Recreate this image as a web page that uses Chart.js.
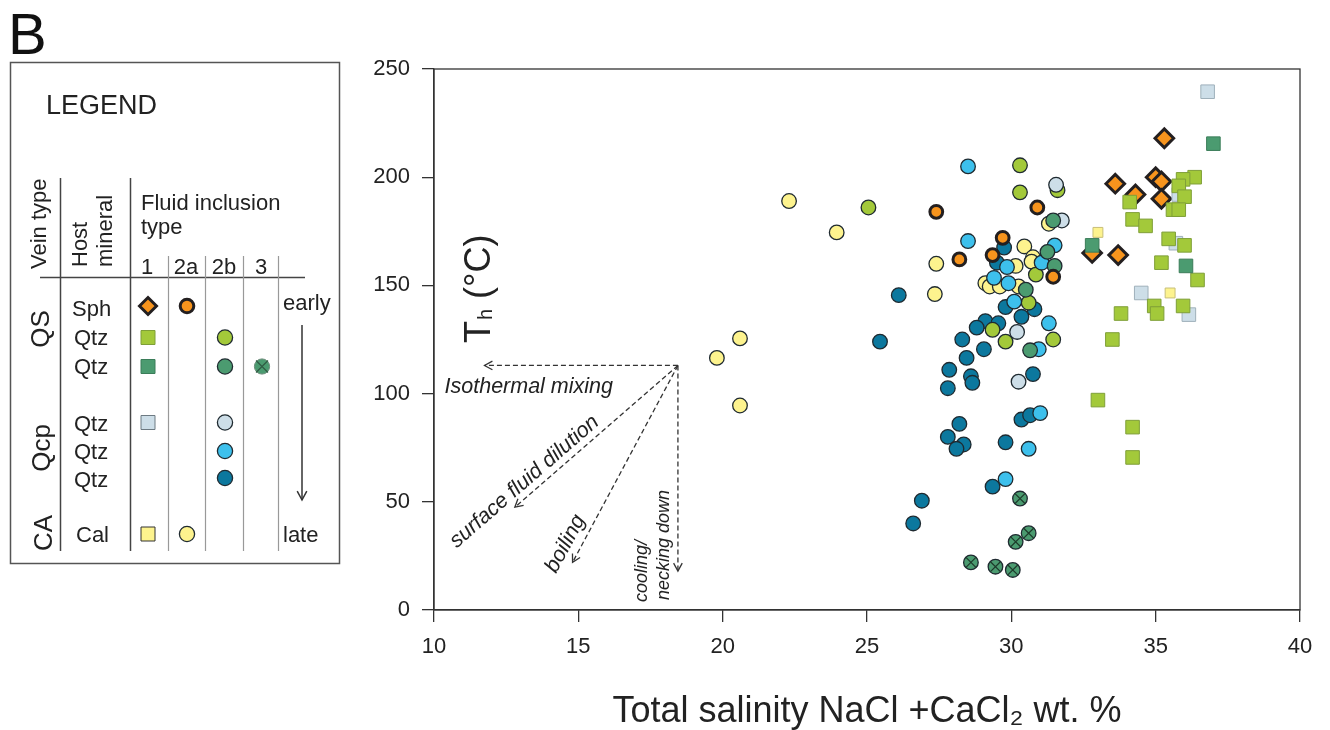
<!DOCTYPE html>
<html>
<head>
<meta charset="utf-8">
<script src="https://cdn.jsdelivr.net/npm/chart.js@4.4.1/dist/chart.umd.min.js"></script>
<style>
  body { margin: 0; background: #fff; }
  #wrap { position: relative; width: 1330px; height: 730px; }
</style>
</head>
<body>
<div id="wrap"><canvas id="myChart" width="1330" height="730"></canvas></div>
<script>
// salinity (wt.% NaCl+CaCl2) vs homogenisation temperature Th (°C)
const xTicks = [10, 15, 20, 25, 30, 35, 40];
const yTicks = [0, 50, 100, 150, 200, 250];

// QS vein, sphalerite
const sphType1 = [[35.3,218],[33.6,197],[34.3,192],[35.0,200],[35.2,198],[35.2,190],[32.8,165],[33.7,164]];
const sphType2a = [[27.4,184],[28.2,162],[29.7,172],[29.35,164],[30.9,186],[31.45,154]];
// QS vein, quartz (green)
const qsQtzType1 = [[36.35,200],[35.95,199],[35.8,196],[36.0,191],[34.1,188.5],[35.6,185],[35.8,185],[34.2,180.5],
  [34.65,177.5],[35.45,171.5],[36.0,168.5],[35.2,160.5],[36.45,152.5],[34.95,140.5],[35.95,140.5],[35.05,137],
  [33.8,137],[33.5,125],[33.0,97],[34.2,84.5],[34.2,70.5]];
const qsQtzType2b = [[25.05,186],[30.3,205.5],[30.3,193],[31.6,194],[30.85,155],[30.6,142],[29.35,129.5],[29.8,124],[31.45,125]];
// QS vein, quartz (dark green)
const qsQtz2Type1 = [[37.0,215.5],[32.8,168.5],[36.05,159]];
const qsQtz2Type2b = [[31.45,180],[31.25,165.5],[31.5,159],[30.5,148],[30.65,120]];
const qsQtz2Type3 = [[28.6,22],[29.45,20],[30.3,51.5],[30.6,35.5],[30.15,31.5],[30.05,18.5]];
// Qcp vein, quartz
const qcpQtzType1 = [[36.8,239.5],[35.8,192],[35.7,169.5],[34.5,146.5],[36.15,136.5]];
const qcpQtzGrey2b = [[31.55,196.5],[31.75,180],[30.2,128.5],[30.25,105.5]];
const qcpQtzCyan2b = [[28.5,205],[28.5,170.5],[31.5,168.5],[31.05,160.5],[29.85,158.5],[29.4,153.5],[29.9,151],
  [30.1,142.5],[31.3,132.5],[30.95,120.5],[31.0,91],[30.6,74.5],[29.8,60.5]];
const qcpQtzTeal2b = [[26.1,145.5],[25.45,124],[29.75,167.5],[29.5,160.5],[29.8,140],[30.35,135.5],[30.8,139],
  [29.1,133.5],[29.55,132.5],[28.8,130.5],[28.3,125],[29.05,120.5],[28.45,116.5],[27.85,111],[28.6,108],
  [28.65,105],[27.8,102.5],[30.75,109],[28.2,86],[27.8,80],[28.35,76.5],[28.1,74.5],[29.8,77.5],[30.35,88],
  [30.65,90],[29.35,57],[26.9,50.5],[26.6,40]];
// CA vein, calcite
const calType1 = [[33.0,174.5],[35.5,146.5]];
const calType2a = [[22.3,189],[23.95,174.5],[19.8,116.5],[20.6,125.5],[20.6,94.5],[27.4,160],[27.35,146],[29.1,151],
  [29.25,149.5],[29.6,149.5],[30.15,159],[30.25,149.5],[30.45,168],[30.75,163],[30.7,161],[31.3,178.5]];

// process arrows (start, end) and their labels
const arrowStart = [18.45, 113];
const arrowEnds = [[11.75, 113], [12.8, 47.5], [14.8, 22], [18.45, 18]];
const arrowLabels = ['Isothermal mixing', 'surface fluid dilution', 'boiling', ['cooling/', 'necking down']];

const FONT = '"Liberation Sans", Arial, Helvetica, sans-serif';

const pts = arr => arr.map(p => ({ x: p[0], y: p[1] }));

function set(label, arr, style, order) {
  return Object.assign({
    label, data: pts(arr), order,
    pointStyle: 'circle', pointRadius: 7.3, pointBorderWidth: 1.3,
    pointBorderColor: '#1f2a30', showLine: false
  }, style);
}

const C = {
  orange: '#f7941d', yg: '#a3c93a', dkgreen: '#4b9b70', grey: '#cddee8',
  cyan: '#3dc0ec', teal: '#0c789e', yellow: '#fdf38e'
};

const datasets = [
  set('Cal 1', calType1, { pointStyle: 'rect', pointRadius: 7, pointBackgroundColor: C.yellow, pointBorderColor: '#c8bf78', pointBorderWidth: 1 }, 1),
  set('QS Qtz 1 dk', qsQtz2Type1, { pointStyle: 'rect', pointRadius: 9.6, pointBackgroundColor: C.dkgreen, pointBorderColor: '#3b7d59', pointBorderWidth: 1 }, 2),
  set('QS Qtz 1', qsQtzType1, { pointStyle: 'rect', pointRadius: 9.6, pointBackgroundColor: C.yg, pointBorderColor: '#7f9f38', pointBorderWidth: 1 }, 3),
  set('Qcp Qtz 1', qcpQtzType1, { pointStyle: 'rect', pointRadius: 9.6, pointBackgroundColor: C.grey, pointBorderColor: '#9fb0ba', pointBorderWidth: 1 }, 4),
  set('Sph 1', sphType1, { pointStyle: 'rectRot', pointRadius: 9.3, pointBackgroundColor: C.orange, pointBorderColor: '#231f20', pointBorderWidth: 3 }, 5),
  set('Sph 2a', sphType2a, { pointRadius: 6.4, pointBackgroundColor: C.orange, pointBorderColor: '#231f20', pointBorderWidth: 3 }, 6),
  set('QS Qtz 3 x', qsQtz2Type3, { pointStyle: 'crossRot', pointRadius: 7, pointBorderColor: '#1d3a2a', pointBorderWidth: 1.2 }, 7),
  set('QS Qtz 3', qsQtz2Type3, { pointBackgroundColor: C.dkgreen }, 8),
  set('QS Qtz 2b dk', qsQtz2Type2b, { pointBackgroundColor: C.dkgreen }, 9),
  set('Qcp Qtz 2b grey', qcpQtzGrey2b, { pointBackgroundColor: C.grey }, 10),
  set('Qcp Qtz 2b cyan', qcpQtzCyan2b, { pointBackgroundColor: C.cyan }, 11),
  set('QS Qtz 2b', qsQtzType2b, { pointBackgroundColor: C.yg }, 12),
  set('Cal 2a', calType2a, { pointBackgroundColor: C.yellow }, 13),
  set('Qcp Qtz 2b teal', qcpQtzTeal2b, { pointBackgroundColor: C.teal }, 14)
];

function marker(ctx, shape, x, y, fill, stroke, bw, r) {
  ctx.save();
  ctx.fillStyle = fill; ctx.strokeStyle = stroke; ctx.lineWidth = bw;
  ctx.beginPath();
  if (shape === 'circle') ctx.arc(x, y, r, 0, Math.PI * 2);
  else if (shape === 'rect') ctx.rect(x - r, y - r, 2 * r, 2 * r);
  else if (shape === 'diamond') { ctx.moveTo(x - r, y); ctx.lineTo(x, y - r); ctx.lineTo(x + r, y); ctx.lineTo(x, y + r); ctx.closePath(); }
  ctx.fill(); ctx.stroke();
  ctx.restore();
}

function arrowHead(ctx, x0, y0, x1, y1, len) {
  const a = Math.atan2(y1 - y0, x1 - x0);
  ctx.beginPath();
  ctx.moveTo(x1 - len * Math.cos(a - 0.5), y1 - len * Math.sin(a - 0.5));
  ctx.lineTo(x1, y1);
  ctx.lineTo(x1 - len * Math.cos(a + 0.5), y1 - len * Math.sin(a + 0.5));
  ctx.stroke();
}

function vText(ctx, txt, x, y, align) {
  ctx.save();
  ctx.translate(x, y);
  ctx.rotate(-Math.PI / 2);
  ctx.textAlign = align || 'left';
  ctx.fillText(txt, 0, 0);
  ctx.restore();
}

// frame, y title, process arrows
const overlay = {
  id: 'overlay',
  afterDraw(chart) {
    const { ctx, chartArea: a, scales: { x, y } } = chart;
    ctx.save();
    ctx.strokeStyle = '#333'; ctx.lineWidth = 1.3;
    ctx.strokeRect(a.left, a.top, a.right - a.left, a.bottom - a.top);

    // y title inside plot
    ctx.fillStyle = '#222';
    ctx.save();
    ctx.translate(a.left + 56, a.top + 274);
    ctx.rotate(-Math.PI / 2);
    ctx.font = '36px ' + FONT;
    ctx.fillText('T', 0, 0);
    let w = ctx.measureText('T').width;
    ctx.font = '20px ' + FONT;
    ctx.fillText('h', w + 1, 2);
    w += ctx.measureText('h').width + 1;
    ctx.font = '36px ' + FONT;
    ctx.fillText(' (°C)', w, 0);
    ctx.restore();

    // dashed arrows
    const ox = x.getPixelForValue(arrowStart[0]), oy = y.getPixelForValue(arrowStart[1]);
    ctx.strokeStyle = '#333'; ctx.lineWidth = 1.3;
    const ends = arrowEnds.map(e => [x.getPixelForValue(e[0]), y.getPixelForValue(e[1])]);
    ends.forEach(([ex, ey]) => {
      ctx.setLineDash([5, 3]);
      ctx.beginPath(); ctx.moveTo(ox, oy); ctx.lineTo(ex, ey); ctx.stroke();
      ctx.setLineDash([]);
      arrowHead(ctx, ox, oy, ex, ey, 9);
    });

    ctx.font = 'italic 21.5px ' + FONT;
    ctx.fillStyle = '#222';
    // isothermal mixing, below the horizontal arrow
    ctx.textAlign = 'left';
    ctx.fillText(arrowLabels[0], ends[0][0] - 40, oy + 28);
    // sloping labels, on the upper-left side of their arrows
    [[1, 24, -7], [2, 13, -9]].forEach(([i, along, off]) => {
      const [ex, ey] = ends[i];
      const ang = Math.atan2(oy - ey, ox - ex);
      ctx.save();
      ctx.translate(ex, ey);
      ctx.rotate(ang);
      ctx.textAlign = 'center';
      ctx.fillText(arrowLabels[i], along, off);
      ctx.restore();
    });
    // cooling / necking down
    ctx.font = 'italic 18px ' + FONT;
    const [cx, cy] = ends[3];
    vText(ctx, arrowLabels[3][0], cx - 31, cy + 31);
    vText(ctx, arrowLabels[3][1], cx - 9, cy + 29);
    ctx.restore();
  }
};

// legend panel on the left
const legendPanel = {
  id: 'legendPanel',
  afterDraw(chart) {
    const ctx = chart.ctx;
    ctx.save();
    ctx.fillStyle = '#111';
    ctx.font = '58px ' + FONT;
    ctx.fillText('B', 8, 54);

    ctx.strokeStyle = '#555'; ctx.lineWidth = 1.5;
    ctx.strokeRect(10.5, 62.5, 329, 501);

    ctx.fillStyle = '#222';
    ctx.font = '27px ' + FONT;
    ctx.fillText('LEGEND', 46, 114);

    ctx.font = '22px ' + FONT;
    vText(ctx, 'Vein type', 46, 269);
    vText(ctx, 'Host', 87, 267);
    vText(ctx, 'mineral', 112, 267);
    ctx.fillText('Fluid inclusion', 141, 210);
    ctx.fillText('type', 141, 234);
    ctx.textAlign = 'center';
    [['1', 147], ['2a', 186], ['2b', 224], ['3', 261]].forEach(([t, cx]) => ctx.fillText(t, cx, 274));
    ctx.textAlign = 'left';

    // table lines
    ctx.strokeStyle = '#444'; ctx.lineWidth = 1.5;
    ctx.beginPath();
    ctx.moveTo(60.5, 178); ctx.lineTo(60.5, 551);
    ctx.moveTo(130.5, 178); ctx.lineTo(130.5, 551);
    ctx.moveTo(40, 277.5); ctx.lineTo(305, 277.5);
    ctx.stroke();
    ctx.strokeStyle = '#999'; ctx.lineWidth = 1.2;
    ctx.beginPath();
    [168.5, 205.5, 243.5, 278.5].forEach(lx => { ctx.moveTo(lx, 256); ctx.lineTo(lx, 551); });
    ctx.stroke();

    // rows
    const rows = [
      ['Sph', 72, 316, 306], ['Qtz', 74, 345, 337.5], ['Qtz', 74, 374, 366.5],
      ['Qtz', 74, 431, 422.5], ['Qtz', 74, 459, 451], ['Qtz', 74, 487, 478], ['Cal', 76, 542, 534]
    ];
    rows.forEach(r => ctx.fillText(r[0], r[1], r[2]));
    const cy = rows.map(r => r[3]);
    marker(ctx, 'diamond', 148, cy[0], C.orange, '#231f20', 3, 8.5);
    marker(ctx, 'circle', 187, cy[0], C.orange, '#231f20', 3, 6.8);
    marker(ctx, 'rect', 148, cy[1], C.yg, '#7f9f38', 1, 7);
    marker(ctx, 'circle', 225, cy[1], C.yg, '#1f2a30', 1.3, 7.6);
    marker(ctx, 'rect', 148, cy[2], C.dkgreen, '#3b7d59', 1, 7);
    marker(ctx, 'circle', 225, cy[2], C.dkgreen, '#1f2a30', 1.3, 7.6);
    marker(ctx, 'circle', 262, cy[2], C.dkgreen, '#6a8a78', 1, 7.6);
    ctx.strokeStyle = '#2f5a43'; ctx.lineWidth = 1.1;
    ctx.beginPath();
    ctx.moveTo(256, cy[2] - 6); ctx.lineTo(268, cy[2] + 6);
    ctx.moveTo(268, cy[2] - 6); ctx.lineTo(256, cy[2] + 6);
    ctx.stroke();
    marker(ctx, 'rect', 148, cy[3], C.grey, '#6d7a82', 1, 7);
    marker(ctx, 'circle', 225, cy[3], C.grey, '#1f2a30', 1.3, 7.6);
    marker(ctx, 'circle', 225, cy[4], C.cyan, '#1f2a30', 1.3, 7.6);
    marker(ctx, 'circle', 225, cy[5], C.teal, '#1f2a30', 1.3, 7.6);
    marker(ctx, 'rect', 148, cy[6], C.yellow, '#333', 1, 7);
    marker(ctx, 'circle', 187, cy[6], C.yellow, '#1f2a30', 1.3, 7.6);

    // vein labels
    ctx.font = '26px ' + FONT;
    vText(ctx, 'QS', 49, 329, 'center');
    vText(ctx, 'Qcp', 50, 448, 'center');
    vText(ctx, 'CA', 52, 533, 'center');

    // early -> late
    ctx.font = '22px ' + FONT;
    ctx.fillText('early', 283, 310);
    ctx.fillText('late', 283, 542);
    ctx.strokeStyle = '#333'; ctx.lineWidth = 1.5;
    ctx.beginPath(); ctx.moveTo(302, 325); ctx.lineTo(302, 500); ctx.stroke();
    arrowHead(ctx, 302, 325, 302, 500, 10);
    ctx.restore();
  }
};

const axisCommon = {
  border: { display: true, color: '#333', width: 1.3 },
  grid: { display: true, drawOnChartArea: false, drawTicks: true, tickLength: 12, color: '#333', lineWidth: 1.3 }
};

new Chart(document.getElementById('myChart'), {
  type: 'scatter',
  data: { datasets },
  options: {
    responsive: false,
    animation: false,
    layout: { padding: { top: 69, right: 30, left: 0, bottom: 0 } },
    plugins: { legend: { display: false }, tooltip: { enabled: false } },
    scales: {
      x: Object.assign({}, axisCommon, {
        min: xTicks[0], max: xTicks[xTicks.length - 1],
        ticks: { stepSize: xTicks[1] - xTicks[0], color: '#222', padding: 12, font: { size: 22, family: FONT } },
        title: {
          display: true, text: 'Total salinity NaCl +CaCl₂ wt. %', color: '#222',
          font: { size: 36, family: FONT, lineHeight: 1 }, padding: { top: 0, bottom: 0 }
        },
        afterFit: s => { s.height = 120; }
      }),
      y: Object.assign({}, axisCommon, {
        min: yTicks[0], max: yTicks[yTicks.length - 1],
        ticks: { stepSize: yTicks[1] - yTicks[0], color: '#222', padding: 12, font: { size: 22, family: FONT } },
        afterFit: s => { s.width = 434; }
      })
    }
  },
  plugins: [overlay, legendPanel]
});
</script>
</body>
</html>
